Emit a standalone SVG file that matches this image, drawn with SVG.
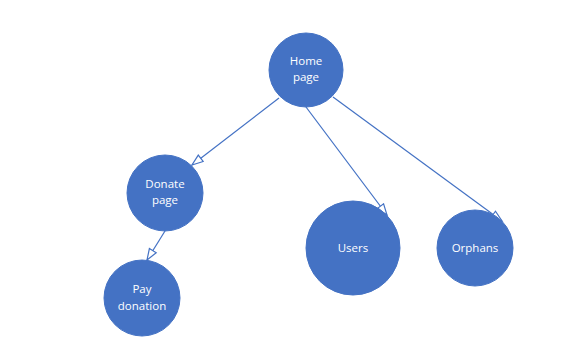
<svg xmlns="http://www.w3.org/2000/svg" width="565" height="345" viewBox="0 0 565 345">
  <style>
    .node circle { fill: #4472C4; stroke: #4472C4; stroke-width: 1; }
    .node text { fill: #ffffff; font-family: "Open Sans", "Liberation Sans", sans-serif; font-size: 11.5px; text-anchor: middle; }
    .edge { fill: none; stroke: #4472C4; stroke-width: 1.2; marker-end: url(#open-arrow); }
  </style>
  <defs>
    <marker id="open-arrow" markerUnits="userSpaceOnUse" markerWidth="16" markerHeight="14" refX="12" refY="5" orient="auto">
      <path d="M1,1 L12,5 L1,9 Z" fill="#ffffff" stroke="#4472C4" stroke-width="1.2" stroke-linejoin="miter"/>
    </marker>
  </defs>
  <rect width="565" height="345" fill="#ffffff"/>

  <g id="connectors">
    <line class="edge" x1="279" y1="98" x2="192" y2="165"/>
    <line class="edge" x1="306" y1="107" x2="387" y2="215"/>
    <line class="edge" x1="333" y1="97" x2="502" y2="221"/>
    <line class="edge" x1="165" y1="231" x2="147" y2="260"/>
  </g>

  <g id="home" class="node">
    <circle cx="306" cy="70" r="37"/>
    <text x="306" y="65">Home</text>
    <text x="306" y="81">page</text>
  </g>
  <g id="donate" class="node">
    <circle cx="165" cy="193" r="38"/>
    <text x="165" y="188">Donate</text>
    <text x="165" y="204">page</text>
  </g>
  <g id="pay" class="node">
    <circle cx="142" cy="298" r="38"/>
    <text x="142" y="293">Pay</text>
    <text x="142" y="310">donation</text>
  </g>
  <g id="users" class="node">
    <circle cx="353" cy="248" r="47"/>
    <text x="353" y="252">Users</text>
  </g>
  <g id="orphans" class="node">
    <circle cx="475" cy="248" r="38"/>
    <text x="475" y="252">Orphans</text>
  </g>
</svg>
